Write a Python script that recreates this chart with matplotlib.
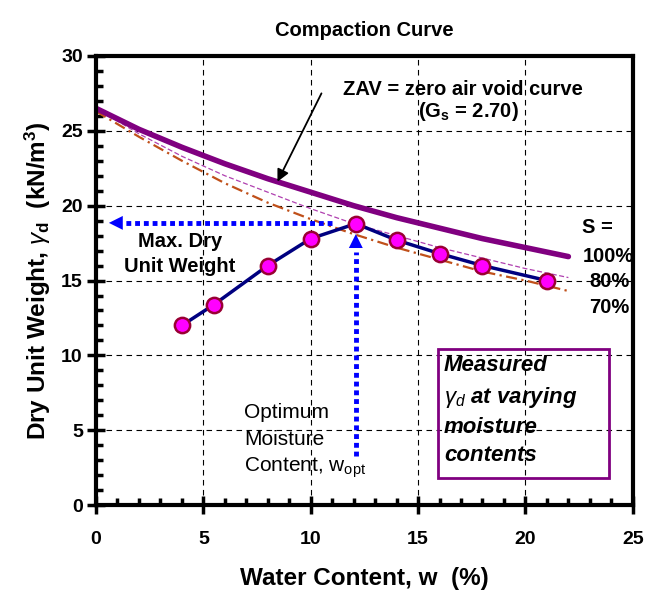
import numpy as np
import matplotlib
matplotlib.use('Agg')
import matplotlib.pyplot as plt
from matplotlib.patches import Rectangle

plt.rcParams['font.family'] = ['Liberation Sans', 'DejaVu Sans']
plt.rcParams['mathtext.fontset'] = 'custom'
plt.rcParams['mathtext.rm'] = 'Liberation Sans'
plt.rcParams['mathtext.it'] = 'Liberation Sans:italic'
plt.rcParams['mathtext.bf'] = 'Liberation Sans:bold'

# measured points
w_meas = [4, 5.5, 8, 10, 12.1, 14, 16, 18, 21]
gd_meas = [12.0, 13.4, 16.0, 17.8, 18.8, 17.7, 16.8, 16.0, 15.0]

# saturation curves
w_curve = [0, 2, 4, 6, 8, 10, 12, 14, 16, 18, 20, 22]
gd_zav = [26.5, 25.1, 23.9, 22.8, 21.8, 20.9, 20.0, 19.2, 18.5, 17.8, 17.2, 16.6]
gd_s80 = [26.5, 24.8, 23.3, 22.0, 20.9, 19.8, 18.8, 18.0, 17.2, 16.5, 15.8, 15.2]
gd_s70 = [26.3, 24.6, 23.0, 21.5, 20.2, 19.1, 18.1, 17.2, 16.4, 15.6, 15.0, 14.3]

w_opt = 12.1
gd_max = 18.85

fig = plt.figure(figsize=(6.64, 5.95), dpi=100)
ax = fig.add_axes([0.1446, 0.151, 0.8084, 0.755])

ax.plot(w_curve, gd_s70, color='#C0501A', lw=1.6, ls=(0, (5, 2, 1, 2)))
ax.plot(w_curve, gd_s80, color='#B040B0', lw=0.9, ls=(0, (4, 2)))
ax.plot(w_curve, gd_zav, color='#800080', lw=4, solid_capstyle='round')
ax.plot(w_meas, gd_meas, color='#000080', lw=2.5, marker='o', ms=11,
        mfc='#FF00FF', mec='#990033', mew=1.8, zorder=5)

# blue dotted arrows
ax.plot([11.0, 1.3], [gd_max, gd_max], color='#0000FF', lw=3.5, ls=(0, (1, 0.8)))
ax.annotate('', xy=(0.6, gd_max), xytext=(1.5, gd_max),
            arrowprops=dict(arrowstyle='-|>', color='#0000FF', lw=0,
                            mutation_scale=25, shrinkA=0, shrinkB=0))
ax.plot([w_opt, w_opt], [3.3, 16.9], color='#0000FF', lw=3.5, ls=(0, (1, 0.8)))
ax.annotate('', xy=(w_opt, 18.1), xytext=(w_opt, 16.9),
            arrowprops=dict(arrowstyle='-|>', color='#0000FF', lw=0,
                            mutation_scale=25, shrinkA=0, shrinkB=0))

# ZAV label and arrow
ax.text(17.1, 27.4, 'ZAV = zero air void curve', ha='center', va='baseline',
        fontsize=14.5, fontweight='bold')
ax.text(17.35, 25.95, r'(G$_\mathbf{s}$ = 2.70)', ha='center', va='baseline',
        fontsize=14.5, fontweight='bold')
ax.annotate('', xy=(8.45, 21.6), xytext=(10.5, 27.5),
            arrowprops=dict(arrowstyle='-|>', color='black', lw=1.3,
                            mutation_scale=18, shrinkA=0, shrinkB=0))

ax.text(3.9, 17.25, 'Max. Dry', ha='center', va='baseline',
        fontsize=14.5, fontweight='bold')
ax.text(3.9, 15.6, 'Unit Weight', ha='center', va='baseline',
        fontsize=14.5, fontweight='bold')

for yy, lab in [(5.8, 'Optimum'), (4.0, 'Moisture'),
                (2.22, r'Content, w$_\mathrm{opt}$')]:
    ax.text(6.9, yy, lab, ha='left', va='baseline', fontsize=15)

for xx, yy, lab in [(23.35, 18.15, 'S ='), (23.88, 16.25, '100%'),
                    (23.9, 14.55, '80%'), (23.9, 12.8, '70%')]:
    ax.text(xx, yy, lab, ha='center', va='baseline', fontsize=14.5,
            fontweight='bold', clip_on=False)

# measured box
ax.add_patch(Rectangle((15.95, 1.8), 7.95, 8.6, fill=False, ec='#800080',
                       lw=2, zorder=6))
for yy, lab in [(8.96, 'Measured'), (6.84, r'$\gamma_d$ at varying'),
                (4.84, 'moisture'), (2.96, 'contents')]:
    ax.text(16.2, yy, lab, ha='left', va='baseline', fontsize=16,
            fontweight='bold', style='italic', zorder=7)

ax.set_xlim(0, 25)
ax.set_ylim(0, 30)
ax.set_xticks(np.arange(0, 26, 5))
ax.set_yticks(np.arange(0, 31, 5))
ax.set_xticks(np.arange(0, 26, 1), minor=True)
ax.set_yticks(np.arange(0, 31, 1), minor=True)
ax.grid(True, which='major', color='black', ls=(0, (5, 4)), lw=0.8)
ax.tick_params(which='major', direction='inout', length=13, width=2.5,
               labelsize=14)
ax.tick_params(axis='x', which='major', pad=12)
ax.tick_params(axis='y', which='major', pad=3)
ax.tick_params(which='minor', direction='in', length=5, width=2.5)
for lab in ax.get_xticklabels() + ax.get_yticklabels():
    lab.set_fontweight('bold')
for sp in ax.spines.values():
    sp.set_linewidth(3)

ax.set_xlabel('Water Content, w  (%)', fontsize=17.5, fontweight='bold', labelpad=14)
ax.set_ylabel(r'Dry Unit Weight, $\gamma_\mathbf{d}$  (kN/m$^\mathbf{3}$)',
              fontsize=17.5, fontweight='bold', labelpad=6)
ax.set_title('Compaction Curve', fontsize=14.5, fontweight='bold', pad=14)

fig.savefig('out.png', dpi=100)
